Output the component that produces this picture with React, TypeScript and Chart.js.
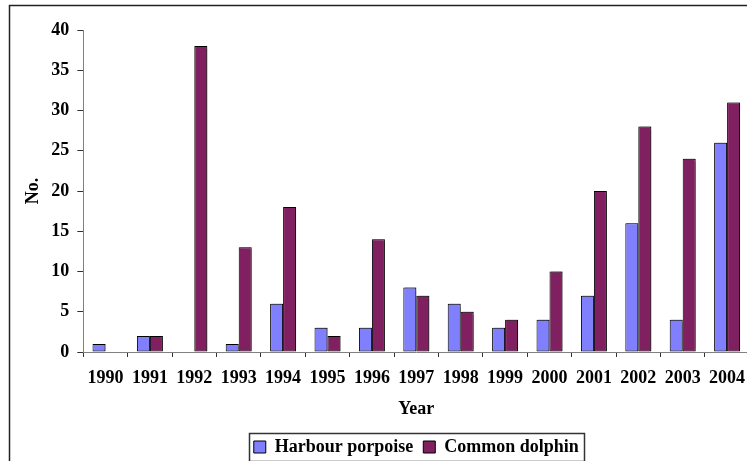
import React, { useEffect, useRef } from 'react';
import { Chart, registerables } from 'chart.js';

Chart.register(...registerables);

const years = ['1990', '1991', '1992', '1993', '1994', '1995', '1996', '1997', '1998', '1999', '2000', '2001', '2002', '2003', '2004'];
const harbourPorpoise = [1, 2, 0, 1, 6, 3, 3, 8, 6, 3, 4, 7, 16, 4, 26];
const commonDolphin = [0, 2, 38, 13, 18, 2, 14, 7, 5, 4, 10, 20, 28, 24, 31];
const yMin = 0;
const yMax = 40;
const yStep = 5;

const seriesNames = ['Harbour porpoise', 'Common dolphin'];
const seriesColors = ['#8080FF', '#802060'];

const W = 760;
const H = 466;
const FONT = "'Liberation Serif', 'Times New Roman', serif";

const framePlugin = {
  id: 'frame',
  beforeDraw(chart: any) {
    const ctx = chart.ctx;
    ctx.save();
    ctx.fillStyle = '#ffffff';
    ctx.fillRect(0, 0, chart.width, chart.height);
    ctx.strokeStyle = '#222222';
    ctx.lineWidth = 1.5;
    ctx.strokeRect(9.5, 5.5, chart.width + 20, chart.height + 20);
    ctx.restore();
  },
};

const shadowPlugin = {
  id: 'barShadow',
  beforeDatasetsDraw(chart: any) {
    const ctx = chart.ctx;
    ctx.save();
    ctx.shadowColor = 'rgba(0,0,0,0.35)';
    ctx.shadowOffsetX = 1.5;
    ctx.shadowOffsetY = -0.5;
    ctx.shadowBlur = 1;
  },
  afterDatasetsDraw(chart: any) {
    chart.ctx.restore();
  },
};

const legendBoxPlugin = {
  id: 'legendBox',
  afterDraw(chart: any) {
    const lg = chart.legend;
    if (!lg || !lg.legendHitBoxes || !lg.legendHitBoxes.length) return;
    const hb = lg.legendHitBoxes;
    let l = Infinity, r = -Infinity, t = Infinity, b = -Infinity;
    hb.forEach((h: any) => {
      l = Math.min(l, h.left);
      r = Math.max(r, h.left + h.width);
      t = Math.min(t, h.top);
      b = Math.max(b, h.top + h.height);
    });
    const ctx = chart.ctx;
    ctx.save();
    ctx.strokeStyle = '#333333';
    ctx.lineWidth = 1.5;
    ctx.strokeRect(Math.round(l - 5) + 0.5, Math.round(t - 5) + 0.5, Math.round(r - l + 10), Math.round(b - t + 10));
    ctx.restore();
  },
};

export default function App() {
  const ref = useRef<HTMLCanvasElement | null>(null);

  useEffect(() => {
    if (!ref.current) return;
    const chart = new Chart(ref.current, {
      type: 'bar',
      data: {
        labels: years,
        datasets: [
          {
            label: seriesNames[0],
            data: harbourPorpoise,
            backgroundColor: seriesColors[0],
            borderColor: '#000000',
            borderWidth: 1,
            borderSkipped: false,
            categoryPercentage: 0.585,
            barPercentage: 1,
          },
          {
            label: seriesNames[1],
            data: commonDolphin,
            backgroundColor: seriesColors[1],
            borderColor: '#000000',
            borderWidth: 1,
            borderSkipped: false,
            categoryPercentage: 0.585,
            barPercentage: 1,
          },
        ],
      },
      options: {
        responsive: false,
        animation: false,
        devicePixelRatio: 1,
        layout: { padding: { top: 30, left: 0, right: 10.7, bottom: 0 } },
        plugins: {
          legend: {
            position: 'bottom',
            fullSize: false,
            labels: {
              color: '#000000',
              font: { family: FONT, size: 18, weight: 'bold' },
              boxWidth: 12,
              boxHeight: 12,
              padding: 10,
            },
          },
          tooltip: { enabled: false },
        },
        scales: {
          x: {
            grid: {
              display: true,
              drawOnChartArea: false,
              drawTicks: true,
              tickLength: 5,
              color: '#333333',
              offset: true,
            },
            border: { display: true, color: '#808080', width: 1 },
            ticks: {
              color: '#000000',
              font: { family: FONT, size: 18, weight: 'bold' },
              padding: 11,
              maxRotation: 0,
              autoSkip: false,
            },
            title: {
              display: true,
              text: 'Year',
              color: '#000000',
              font: { family: FONT, size: 18, weight: 'bold' },
              padding: { top: 0, bottom: 8 },
            },
            afterFit(scale: any) {
              scale.height = 76;
            },
          },
          y: {
            min: yMin,
            max: yMax,
            grid: {
              display: true,
              drawOnChartArea: false,
              drawTicks: true,
              tickLength: 6,
              color: '#333333',
            },
            border: { display: true, color: '#808080', width: 1 },
            ticks: {
              stepSize: yStep,
              color: '#000000',
              font: { family: FONT, size: 18, weight: 'bold' },
              padding: 8,
            },
            title: {
              display: true,
              text: 'No.',
              color: '#000000',
              font: { family: FONT, size: 18, weight: 'bold' },
              padding: { top: 23, bottom: 0 },
            },
            afterFit(scale: any) {
              scale.width = 83.3;
            },
          },
        },
      },
      plugins: [framePlugin, shadowPlugin, legendBoxPlugin],
    } as any);
    return () => chart.destroy();
  }, []);

  return (
    <div style={{ position: 'fixed', left: 0, top: 0, width: 747, height: 461, overflow: 'hidden', background: '#fff' }}>
      <canvas ref={ref} width={W} height={H} style={{ display: 'block', width: W, height: H }} />
    </div>
  );
}
